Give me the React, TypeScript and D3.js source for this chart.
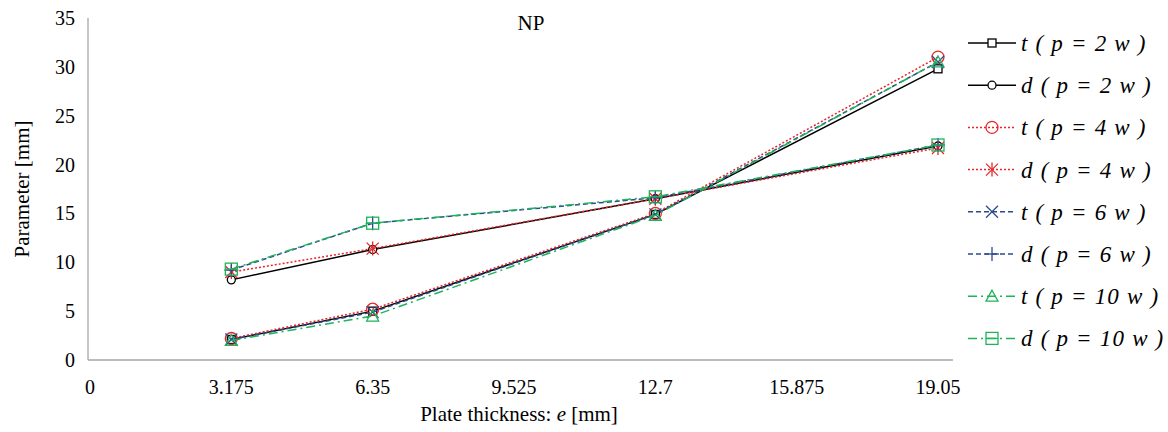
import * as React from 'react';
import { scaleLinear, line } from 'd3';

const xValues = [3.175, 6.35, 12.7, 19.05];
const xTicks = [0, 3.175, 6.35, 9.525, 12.7, 15.875, 19.05];
const yTicks = [0, 5, 10, 15, 20, 25, 30, 35];

const tP2 = [2.1, 5.0, 14.9, 29.8];
const dP2 = [8.2, 11.3, 16.5, 21.9];
const tP4 = [2.2, 5.2, 15.0, 31.0];
const dP4 = [9.0, 11.4, 16.5, 21.7];
const tP6 = [2.1, 4.9, 14.9, 30.5];
const dP6 = [9.2, 14.0, 16.6, 22.0];
const tP10 = [2.0, 4.5, 14.8, 30.5];
const dP10 = [9.3, 14.0, 16.7, 22.0];

const labels = ['t', 'd', 't', 'd', 't', 'd', 't', 'd'];
const pValues = ['2', '2', '4', '4', '6', '6', '10', '10'];

type Marker = 'square' | 'circle' | 'bigcircle' | 'asterisk' | 'x' | 'plus' | 'triangle' | 'boxminus';

const series: { values: number[]; color: string; dash: string; marker: Marker }[] = [
    { values: tP2, color: '#000000', dash: '', marker: 'square' },
    { values: dP2, color: '#000000', dash: '', marker: 'circle' },
    { values: tP4, color: '#e8262a', dash: '2,2', marker: 'bigcircle' },
    { values: dP4, color: '#e8262a', dash: '2,2', marker: 'asterisk' },
    { values: tP6, color: '#2a4a8c', dash: '5,3', marker: 'x' },
    { values: dP6, color: '#2a4a8c', dash: '5,3', marker: 'plus' },
    { values: tP10, color: '#1fb35a', dash: '9,4,2,4', marker: 'triangle' },
    { values: dP10, color: '#1fb35a', dash: '9,4,2,4', marker: 'boxminus' },
];

const left = 88, right = 953, top = 18, bottom = 360;

const xScale = scaleLinear().domain([0, 19.05]).range([90, 938]);
const yScale = scaleLinear().domain([0, 35]).range([bottom, top]);

const serifFont = 'Liberation Serif, Tinos, DejaVu Serif, Noto Serif, serif';

function MarkerShape({ type, x, y, color }: { type: Marker; x: number; y: number; color: string }) {
    const sw = 1.3;
    switch (type) {
        case 'square':
            return <rect x={x - 4} y={y - 4} width={8} height={8} fill="white" stroke={color} strokeWidth={sw} />;
        case 'circle':
            return <circle cx={x} cy={y} r={4} fill="white" stroke={color} strokeWidth={sw} />;
        case 'bigcircle':
            return <circle cx={x} cy={y} r={6} fill="none" stroke={color} strokeWidth={sw} />;
        case 'asterisk':
            return (
                <g stroke={color} strokeWidth={sw}>
                    <line x1={x - 6} y1={y - 6} x2={x + 6} y2={y + 6} />
                    <line x1={x - 6} y1={y + 6} x2={x + 6} y2={y - 6} />
                    <line x1={x} y1={y - 7} x2={x} y2={y + 7} />
                </g>
            );
        case 'x':
            return (
                <g stroke={color} strokeWidth={sw}>
                    <line x1={x - 6} y1={y - 6} x2={x + 6} y2={y + 6} />
                    <line x1={x - 6} y1={y + 6} x2={x + 6} y2={y - 6} />
                </g>
            );
        case 'plus':
            return (
                <g stroke={color} strokeWidth={sw}>
                    <line x1={x - 7} y1={y} x2={x + 7} y2={y} />
                    <line x1={x} y1={y - 7} x2={x} y2={y + 7} />
                </g>
            );
        case 'triangle':
            return <path d={`M${x},${y - 6}L${x + 6},${y + 5}L${x - 6},${y + 5}Z`} fill="none" stroke={color} strokeWidth={sw} />;
        case 'boxminus':
            return (
                <g stroke={color} strokeWidth={sw} fill="none">
                    <rect x={x - 6} y={y - 6} width={12} height={12} />
                    <line x1={x - 6} y1={y} x2={x + 6} y2={y} />
                </g>
            );
    }
}

export default function App() {
    const lineGen = line<number>()
        .x((_, i) => xScale(xValues[i]))
        .y(d => yScale(d));

    return (
        <svg width={1168} height={432} fontFamily={serifFont} style={{ position: 'absolute', left: 0, top: 0, background: 'white' }}>
            <line x1={left} y1={top} x2={left} y2={bottom} stroke="#a6a6a6" strokeWidth={1.3} />
            <line x1={left} y1={bottom} x2={right} y2={bottom} stroke="#a6a6a6" strokeWidth={1.3} />

            {yTicks.map(t => (
                <text key={t} x={75} y={yScale(t)} dy="0.35em" textAnchor="end" fontSize={20}>
                    {t}
                </text>
            ))}
            {xTicks.map(t => (
                <text key={t} x={xScale(t)} y={394} textAnchor="middle" fontSize={20}>
                    {t}
                </text>
            ))}

            <text x={531} y={30} textAnchor="middle" fontSize={21}>NP</text>
            <text transform={`translate(29,${(top + bottom) / 2}) rotate(-90)`} textAnchor="middle" fontSize={21}>
                Parameter [mm]
            </text>
            <text x={519} y={421} textAnchor="middle" fontSize={21}>
                Plate thickness: <tspan fontStyle="italic">e</tspan> [mm]
            </text>

            {series.map((s, i) => (
                <g key={i}>
                    <path d={lineGen(s.values) || ''} fill="none" stroke={s.color} strokeWidth={1.5} strokeDasharray={s.dash} />
                    {s.values.map((v, j) => (
                        <MarkerShape key={j} type={s.marker} x={xScale(xValues[j])} y={yScale(v)} color={s.color} />
                    ))}
                </g>
            ))}

            {series.map((s, i) => {
                const y = 43 + i * 42.2;
                return (
                    <g key={'l' + i}>
                        <line x1={968} y1={y} x2={1016} y2={y} stroke={s.color} strokeWidth={1.5} strokeDasharray={s.dash} />
                        <MarkerShape type={s.marker} x={992} y={y} color={s.color} />
                        <text x={1021} y={y} dy="0.35em" fontSize={23} fontStyle="italic" letterSpacing={1.2} xmlSpace="preserve">
                            {`${labels[i]} ( p = ${pValues[i]} w )`}
                        </text>
                    </g>
                );
            })}
        </svg>
    );
}
